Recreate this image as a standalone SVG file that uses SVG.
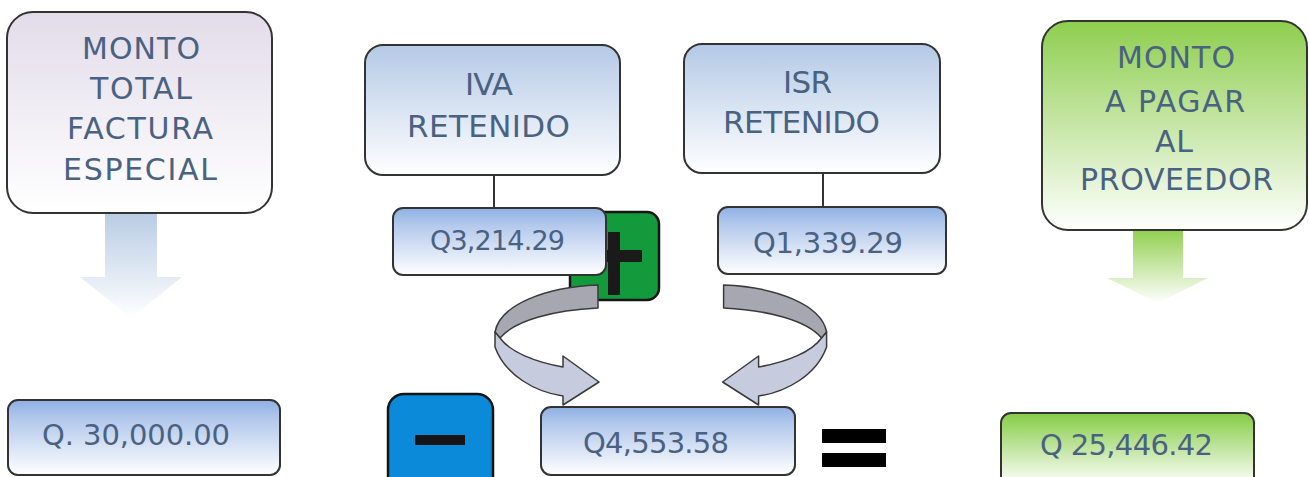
<svg xmlns="http://www.w3.org/2000/svg" width="1309" height="477" viewBox="0 0 1309 477">
<defs>
<linearGradient id="gLav" x1="0" y1="0" x2="0" y2="1"><stop offset="0" stop-color="#e2dcea"/><stop offset="1" stop-color="#ffffff"/></linearGradient>
<linearGradient id="gBlue" x1="0" y1="0" x2="0" y2="1"><stop offset="0" stop-color="#b4c9e6"/><stop offset="1" stop-color="#ffffff"/></linearGradient>
<linearGradient id="gVal" x1="0" y1="0" x2="0" y2="1"><stop offset="0" stop-color="#8fb0e3"/><stop offset="0.25" stop-color="#b2c8ec"/><stop offset="1" stop-color="#ffffff"/></linearGradient>
<linearGradient id="gGreen" x1="0" y1="0" x2="0" y2="1"><stop offset="0" stop-color="#8ece4e"/><stop offset="1" stop-color="#ffffff"/></linearGradient>
<linearGradient id="gGreenVal" x1="0" y1="0" x2="0" y2="1"><stop offset="0" stop-color="#86cc45"/><stop offset="0.9" stop-color="#ffffff"/></linearGradient>
<linearGradient id="gArrB" x1="0" y1="0" x2="0" y2="1"><stop offset="0" stop-color="#b8cce4"/><stop offset="1" stop-color="#ffffff"/></linearGradient>
<linearGradient id="gArrG" x1="0" y1="0" x2="0" y2="1"><stop offset="0" stop-color="#92d050"/><stop offset="1" stop-color="#ffffff"/></linearGradient>
<g id="curve">
<path class="band-back" d="M598,285 C545,287 500,305 495,332 L500,338 C515,320 555,310 598,308 Z"/>
<path class="band-front" d="M495,332 L495,347 C505,375 535,392 563,396 L563,405 L599,382 L563,356 L563,367 C535,362 510,352 500,338 Z"/>
</g>
</defs>
<style>
.box{stroke:#333333;stroke-width:2}
.t{font-family:"DejaVu Sans","Liberation Sans",sans-serif;fill:#4a6282}
.big{font-size:30px}
.mid{font-size:31px}
.val{font-size:29px}
.sval{font-size:27px}
.band-back{fill:#a7a7b2;stroke:#3a3a3a;stroke-width:1.5;stroke-linejoin:round}
.band-front{fill:#c6ccdd;stroke:#3a3a3a;stroke-width:1.5;stroke-linejoin:round}
.conn{stroke:#333333;stroke-width:2;fill:none}
</style>

<g id="arrow-left-down">
<path d="M105,213 L157,213 L157,277 L182,277 L131,318 L80,277 L105,277 Z" fill="url(#gArrB)"/>
</g>
<g id="arrow-right-down">
<path d="M1133,230 L1183,230 L1183,278 L1208,278 L1158,303 L1107,278 L1133,278 Z" fill="url(#gArrG)"/>
</g>

<g id="monto-total">
<rect class="box" x="7" y="12" width="265" height="201" rx="26" fill="url(#gLav)"/>
<text class="t big" x="82" y="59" textLength="118" lengthAdjust="spacing">MONTO</text>
<text class="t big" x="90" y="99" textLength="102" lengthAdjust="spacing">TOTAL</text>
<text class="t big" x="67" y="139" textLength="146" lengthAdjust="spacing">FACTURA</text>
<text class="t big" x="63" y="180" textLength="154" lengthAdjust="spacing">ESPECIAL</text>
</g>

<g id="iva">
<rect class="box" x="365" y="45" width="255" height="130" rx="18" fill="url(#gBlue)"/>
<text class="t mid" x="465" y="95" textLength="48" lengthAdjust="spacing">IVA</text>
<text class="t mid" x="407" y="137" textLength="163" lengthAdjust="spacing">RETENIDO</text>
</g>

<g id="isr">
<rect class="box" x="684" y="44" width="256" height="129" rx="18" fill="url(#gBlue)"/>
<text class="t mid" x="783" y="93" textLength="49" lengthAdjust="spacing">ISR</text>
<text class="t mid" x="723" y="133" textLength="157" lengthAdjust="spacing">RETENIDO</text>
</g>

<g id="monto-pagar">
<rect class="box" x="1042" y="21" width="265" height="209" rx="26" fill="url(#gGreen)"/>
<text class="t big" x="1117" y="68" textLength="118" lengthAdjust="spacing">MONTO</text>
<text class="t big" x="1105" y="112" textLength="140" lengthAdjust="spacing">A PAGAR</text>
<text class="t big" x="1155" y="152" textLength="38" lengthAdjust="spacing">AL</text>
<text class="t big" x="1080" y="190" textLength="193" lengthAdjust="spacing">PROVEEDOR</text>
</g>

<g id="connectors">
<line class="conn" x1="494" y1="175" x2="494" y2="208"/>
<line class="conn" x1="823" y1="173" x2="823" y2="207"/>
</g>

<g id="plus">
<rect x="570" y="212" width="89" height="88" rx="12" fill="#139a3c" stroke="#151515" stroke-width="2.5"/>
<rect x="608" y="232" width="12" height="63" fill="#1a1a1a"/>
<rect x="586" y="250" width="56" height="12" fill="#1a1a1a"/>
</g>

<g id="iva-valor">
<rect class="box" x="393" y="208" width="213" height="67" rx="10" fill="url(#gVal)"/>
<text class="t sval" x="430" y="250" textLength="135" lengthAdjust="spacing">Q3,214.29</text>
</g>

<g id="isr-valor">
<rect class="box" x="718" y="207" width="228" height="67" rx="10" fill="url(#gVal)"/>
<text class="t val" x="753" y="253" textLength="150" lengthAdjust="spacing">Q1,339.29</text>
</g>

<g id="curved-arrows">
<use href="#curve"/>
<use href="#curve" transform="translate(1321.6,0) scale(-1,1)"/>
</g>

<g id="total-valor">
<rect class="box" x="8" y="400" width="272" height="75" rx="10" fill="url(#gVal)"/>
<text class="t val" x="42" y="445" textLength="188" lengthAdjust="spacing">Q. 30,000.00</text>
</g>

<g id="minus">
<rect x="388" y="394" width="105" height="100" rx="16" fill="#0a8ad8" stroke="#151515" stroke-width="2.5"/>
<rect x="415" y="435" width="50" height="10" fill="#151515"/>
</g>

<g id="retenciones-valor">
<rect class="box" x="541" y="407" width="254" height="68" rx="10" fill="url(#gVal)"/>
<text class="t val" x="583" y="453" textLength="146" lengthAdjust="spacing">Q4,553.58</text>
</g>

<g id="equals">
<rect x="822" y="429" width="64" height="14" fill="#000000"/>
<rect x="822" y="453" width="64" height="14" fill="#000000"/>
</g>

<g id="pagar-valor">
<rect class="box" x="1001" y="413" width="253" height="80" rx="10" fill="url(#gGreenVal)"/>
<text class="t val" x="1040" y="455" textLength="173" lengthAdjust="spacing">Q 25,446.42</text>
</g>
</svg>
